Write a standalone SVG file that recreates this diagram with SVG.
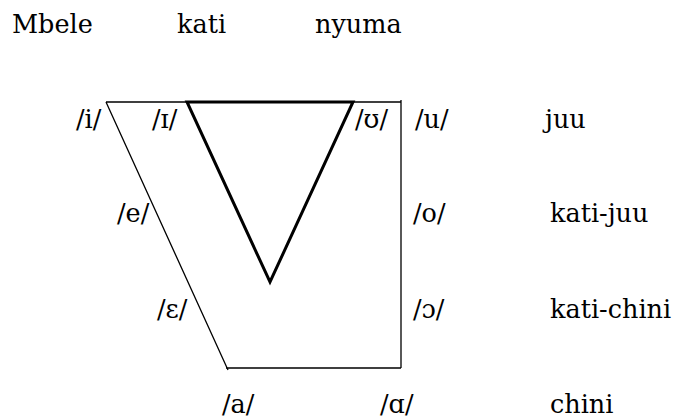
<svg xmlns="http://www.w3.org/2000/svg" width="674" height="419" viewBox="0 0 674 419">
<style>
.t{font-family:'DejaVu Serif','Liberation Serif',serif;font-size:25.5px;fill:#000}
.thin{fill:none;stroke:#000;stroke-width:1.3}
.thick{fill:none;stroke:#000;stroke-width:3;stroke-linejoin:miter}
</style>
<rect width="674" height="419" fill="#fff"/>
<g id="headers" class="t">
<text x="12" y="33">Mbele</text>
<text x="177" y="33">kati</text>
<text x="315" y="33">nyuma</text>
</g>
<g id="connectors">
<path class="thin" d="M106,102 L401,102 M401,100 L401,368 M106,102 L228,370 M226,368 L401,368"/>
<path class="thick" d="M187,102 L353,102 L270,282 Z"/>
</g>
<g id="vowels" class="t">
<text x="76" y="128">/i/</text>
<text x="152" y="128">/ɪ/</text>
<text x="355" y="128">/ʊ/</text>
<text x="415" y="128">/u/</text>
<text x="117" y="222">/e/</text>
<text x="413" y="222">/o/</text>
<text x="157" y="318">/ɛ/</text>
<text x="413" y="318">/ɔ/</text>
<text x="222" y="413">/a/</text>
<text x="380" y="413">/ɑ/</text>
</g>
<g id="heights" class="t">
<text x="545" y="128">juu</text>
<text x="550" y="222">kati-juu</text>
<text x="550" y="318">kati-chini</text>
<text x="550" y="413">chini</text>
</g>
</svg>
